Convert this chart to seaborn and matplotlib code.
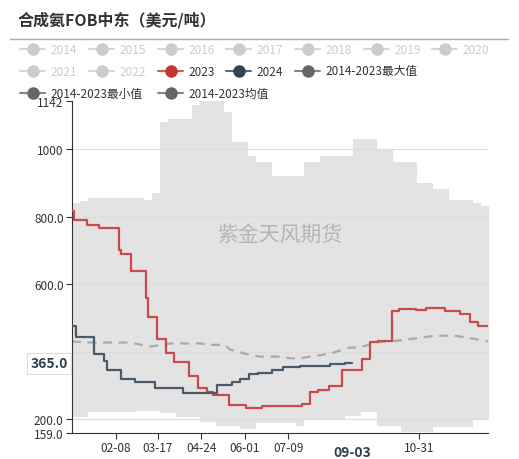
import matplotlib
matplotlib.use("Agg")
import matplotlib.pyplot as plt
import seaborn as sns
import pandas as pd
import numpy as np
from matplotlib.lines import Line2D

sns.set_theme(style="white")
plt.rcParams['font.family'] = ['Noto Sans CJK SC', 'DejaVu Sans']

PX = 1.145
def d(x):
    return (x - 72) / PX

r23_x = [72, 74, 87, 99, 119, 121, 131, 146, 148, 157, 166, 174, 189, 198, 207, 213, 229, 246, 262, 302, 310, 318, 329, 342, 362, 370, 378, 392, 399, 416, 426, 445, 460, 470, 478, 488]
r23_v = [815, 790, 775, 765, 700, 690, 640, 560, 503, 438, 397, 368, 327, 291, 280, 271, 241, 233, 238, 244, 280, 285, 297, 347, 377, 427, 430, 521, 527, 522, 530, 520, 512, 488, 477, 477]
r24_x = [72, 76, 94, 104, 107, 121, 135, 155, 183, 217, 232, 240, 249, 258, 272, 283, 300, 330, 345, 352]
r24_v = [477, 444, 394, 371, 347, 318, 309, 291, 277, 300, 309, 320, 333, 338, 345, 353, 356, 362, 365, 365]
max_x = [72, 80, 85, 115, 140, 145, 152, 155, 165, 185, 200, 222, 232, 245, 255, 265, 285, 300, 320, 345, 370, 390, 410, 430, 445, 465, 480, 488]
max_v = [840, 845, 855, 855, 850, 870, 870, 1080, 1090, 1130, 1142, 1110, 1020, 980, 960, 920, 920, 960, 980, 1030, 1000, 960, 900, 880, 850, 840, 830, 830]
min_x = [72, 84, 115, 135, 155, 175, 195, 215, 235, 248, 250, 290, 295, 300, 330, 340, 355, 375, 390, 395, 420, 430, 460, 470, 488]
min_v = [206, 221, 221, 225, 218, 206, 191, 180, 171, 171, 188, 188, 180, 197, 197, 209, 220, 180, 180, 162, 162, 177, 177, 197, 197]
avg_x = [72, 90, 130, 150, 170, 200, 210, 225, 230, 245, 260, 280, 290, 300, 310, 330, 350, 360, 375, 400, 420, 435, 455, 470, 488]
avg_v = [430, 427, 427, 415, 424, 424, 420, 420, 406, 394, 385, 385, 380, 380, 385, 394, 412, 412, 427, 433, 441, 447, 447, 440, 430]

tick_lbls = ['02-08', '03-17', '04-24', '06-01', '07-09', '10-31']
tick_days = [38, 75, 113, 151, 189, 303]

fig = plt.figure(figsize=(5.19, 4.60), dpi=100)
ax = fig.add_axes([72/519, 26/460, 416/519, 332/460])

grid = np.arange(0, d(488) + 7, 7.0)
def stepv(xs, vs):
    xd = np.array([d(x) for x in xs])
    idx = np.clip(np.searchsorted(xd, grid, side='right') - 1, 0, len(vs) - 1)
    return np.array(vs)[idx]
ax.fill_between(grid, stepv(min_x, min_v), stepv(max_x, max_v), step='post', color='#e3e3e3', lw=0, zorder=1)

for yv in [200, 400, 600, 800, 1000]:
    ax.axhline(yv, color='#dcdcdc', lw=0.8, zorder=1.5)

df_avg = pd.DataFrame({'day': [d(x) for x in avg_x], 'v': avg_v})
sns.lineplot(data=df_avg, x='day', y='v', ax=ax, color='#aaaaaa', lw=1.6, linestyle=(0, (4, 3)), zorder=2)
df23 = pd.DataFrame({'day': [d(x) for x in r23_x], 'v': r23_v})
sns.lineplot(data=df23, x='day', y='v', ax=ax, color='#c84a4a', lw=1.6, drawstyle='steps-post', zorder=3)
df24 = pd.DataFrame({'day': [d(x) for x in r24_x], 'v': r24_v})
sns.lineplot(data=df24, x='day', y='v', ax=ax, color='#4a5a6a', lw=1.6, drawstyle='steps-post', zorder=4)

ax.set_xlim(0, d(488))
ax.set_ylim(159, 1142)
ax.set_xlabel('')
ax.set_ylabel('')
ax.set_yticks([159, 200, 600, 800, 1000, 1142])
ax.set_yticklabels(['159.0', '200.0', '600.0', '800.0', '1000', '1142'])
ax.set_xticks(tick_days)
ax.set_xticklabels(tick_lbls)
ax.tick_params(axis='both', labelsize=8.5, colors='#333333', length=4, width=0.8, direction='out', pad=2)
ax.tick_params(axis='both', bottom=True, left=True)
for s in ['top', 'right']:
    ax.spines[s].set_visible(False)
for s in ['left', 'bottom']:
    ax.spines[s].set_color('#333333')
    ax.spines[s].set_linewidth(0.8)

ax.text(-0.01, 365, '365.0', transform=ax.get_yaxis_transform(), ha='right', va='center',
        fontsize=10, fontweight='bold', color='#2e3e50',
        bbox=dict(boxstyle='square,pad=0.25', fc='white', ec='#dddddd', lw=0.8))
ax.text(245, -0.035, '09-03', transform=ax.get_xaxis_transform(), ha='center', va='top',
        fontsize=10, fontweight='bold', color='#2e3e50',
        bbox=dict(boxstyle='square,pad=0.1', fc='white', ec='none'))

fig.text(18/519, 1 - 20/460, '合成氨FOB中东（美元/吨）', fontsize=11.5, fontweight='bold', color='#333333', va='center')
fig.add_artist(Line2D([10/519, 508/519], [1 - 40/460] * 2, color='#aaaaaa', lw=1))

items = [
    (20, 50, '2014', '#cccccc', '#cccccc'), (89, 50, '2015', '#cccccc', '#cccccc'),
    (158, 50, '2016', '#cccccc', '#cccccc'), (226, 50, '2017', '#cccccc', '#cccccc'),
    (295, 50, '2018', '#cccccc', '#cccccc'), (364, 50, '2019', '#cccccc', '#cccccc'),
    (432, 50, '2020', '#cccccc', '#cccccc'),
    (20, 72, '2021', '#cccccc', '#cccccc'), (89, 72, '2022', '#cccccc', '#cccccc'),
    (158, 72, '2023', '#c23531', '#333333'), (226, 72, '2024', '#2f4554', '#333333'),
    (295, 72, '2014-2023最大值', '#666666', '#333333'),
    (20, 94, '2014-2023最小值', '#666666', '#333333'), (158, 94, '2014-2023均值', '#666666', '#333333'),
]
for x, y, lab, c, tc in items:
    yy = 1 - y / 460
    fig.add_artist(Line2D([x/519, (x+25)/519], [yy, yy], color=c, lw=1.5, alpha=0.8))
    fig.add_artist(Line2D([(x+12.5)/519], [yy], marker='o', markersize=8, color=c, lw=0))
    fig.text((x+30)/519, yy, lab, fontsize=8.5, color=tc, va='center')

ax.text(0.5, 0.6, '紫金天风期货', transform=ax.transAxes, ha='center', va='center', fontsize=15, color='#aaaaaa', alpha=0.8)

fig.savefig('out.png', dpi=100)
